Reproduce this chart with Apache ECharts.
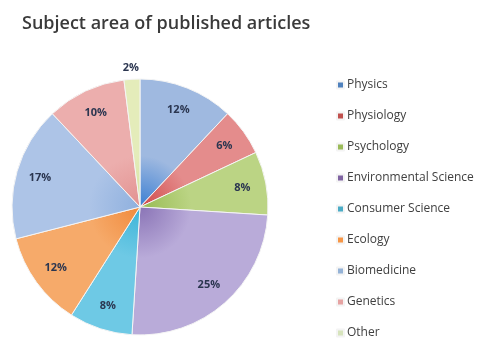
<!DOCTYPE html>
<html>
<head>
<meta charset="utf-8">
<script src="https://cdn.jsdelivr.net/npm/echarts@6/dist/echarts.min.js"></script>
<style>
  html, body { margin: 0; padding: 0; background: #fff; }
  #chart { width: 497px; height: 339px; }
</style>
</head>
<body>
<div id="chart"></div>
<script>
// Subject area of published articles
var categories = ['Physics', 'Physiology', 'Psychology', 'Environmental Science',
  'Consumer Science', 'Ecology', 'Biomedicine', 'Genetics', 'Other'];
var shares = [12, 6, 8, 25, 8, 12, 17, 10, 2];

(function () {
  // dark centre -> light rim, roughly the old Office look
  var darkCols = ['#3a7ed2', '#d04848', '#97bb52', '#8a74b6', '#3cb4d8', '#f08a3c', '#8fb0de', '#e29190', '#d3e29a'];
  var lightCols = ['#9fb9e0', '#e48c8c', '#bbd484', '#b9abd9', '#6ec9e5', '#f6aa6a', '#adc4e7', '#ecaead', '#e4ecba'];
  var legendCols = ['#4f81bd', '#c0504d', '#9bbb59', '#8064a2', '#4bacc6', '#f79646', '#95b3d7', '#e6a3a2', '#d7e4bd'];
  var cx = 140, cy = 207, R = 128;

  var slices = categories.map(function (name, i) {
    return {
      name: name,
      value: shares[i],
      itemStyle: {
        color: {
          type: 'radial', x: cx, y: cy, r: R, global: true,
          colorStops: [
            { offset: 0, color: darkCols[i] },
            { offset: 0.4, color: lightCols[i] },
            { offset: 1, color: lightCols[i] }
          ]
        }
      }
    };
  });

  var labelSlices = categories.map(function (name, i) {
    var d = { name: name, value: shares[i] };
    if (name === 'Other') {
      d.label = { position: 'outside' };
      d.labelLine = { show: false, length: 2, length2: 0 };
    }
    return d;
  });

  var chart = echarts.init(document.getElementById('chart'), null, { renderer: 'canvas' });
  chart.setOption({
    animation: false,
    title: {
      text: 'Subject area of published articles',
      left: 17, top: 10,
      textStyle: { fontFamily: 'Open Sans', fontSize: 18, fontWeight: 600, color: '#3a3a3a' }
    },
    legend: {
      orient: 'vertical',
      left: 336, top: 79, height: 300,
      padding: 0,
      itemWidth: 7, itemHeight: 7, itemGap: 19,
      icon: 'rect',
      data: categories.map(function (c, i) {
        return { name: c, itemStyle: { color: legendCols[i] } };
      }),
      textStyle: { fontFamily: 'Open Sans', fontSize: 12, color: '#404040', padding: [0, 0, 0, -2], lineHeight: 12 }
    },
    series: [
      {
        type: 'pie',
        center: [cx, cy],
        radius: [0, R],
        startAngle: 90,
        clockwise: true,
        silent: true,
        label: { show: false },
        labelLine: { show: false },
        itemStyle: { borderColor: '#f4f4f4', borderWidth: 1 },
        data: slices
      },
      {
        // transparent ring only to place the percent labels near the rim
        type: 'pie',
        center: [cx, cy],
        radius: [R * 0.58, R],
        startAngle: 90,
        clockwise: true,
        silent: true,
        itemStyle: { color: 'rgba(0,0,0,0)' },
        label: {
          show: true,
          position: 'inside',
          formatter: '{c}%',
          fontFamily: 'Open Sans',
          fontSize: 11,
          fontWeight: 'bold',
          color: '#2b3650'
        },
        labelLine: { show: false },
        labelLayout: function (p) {
          // the tiny slice's label sits right above the pie top
          if (p.dataIndex === categories.length - 1) return { dx: 12, dy: -9 };
        },
        data: labelSlices
      }
    ]
  });
  window.addEventListener('resize', function () { chart.resize(); });
})();
</script>
</body>
</html>
